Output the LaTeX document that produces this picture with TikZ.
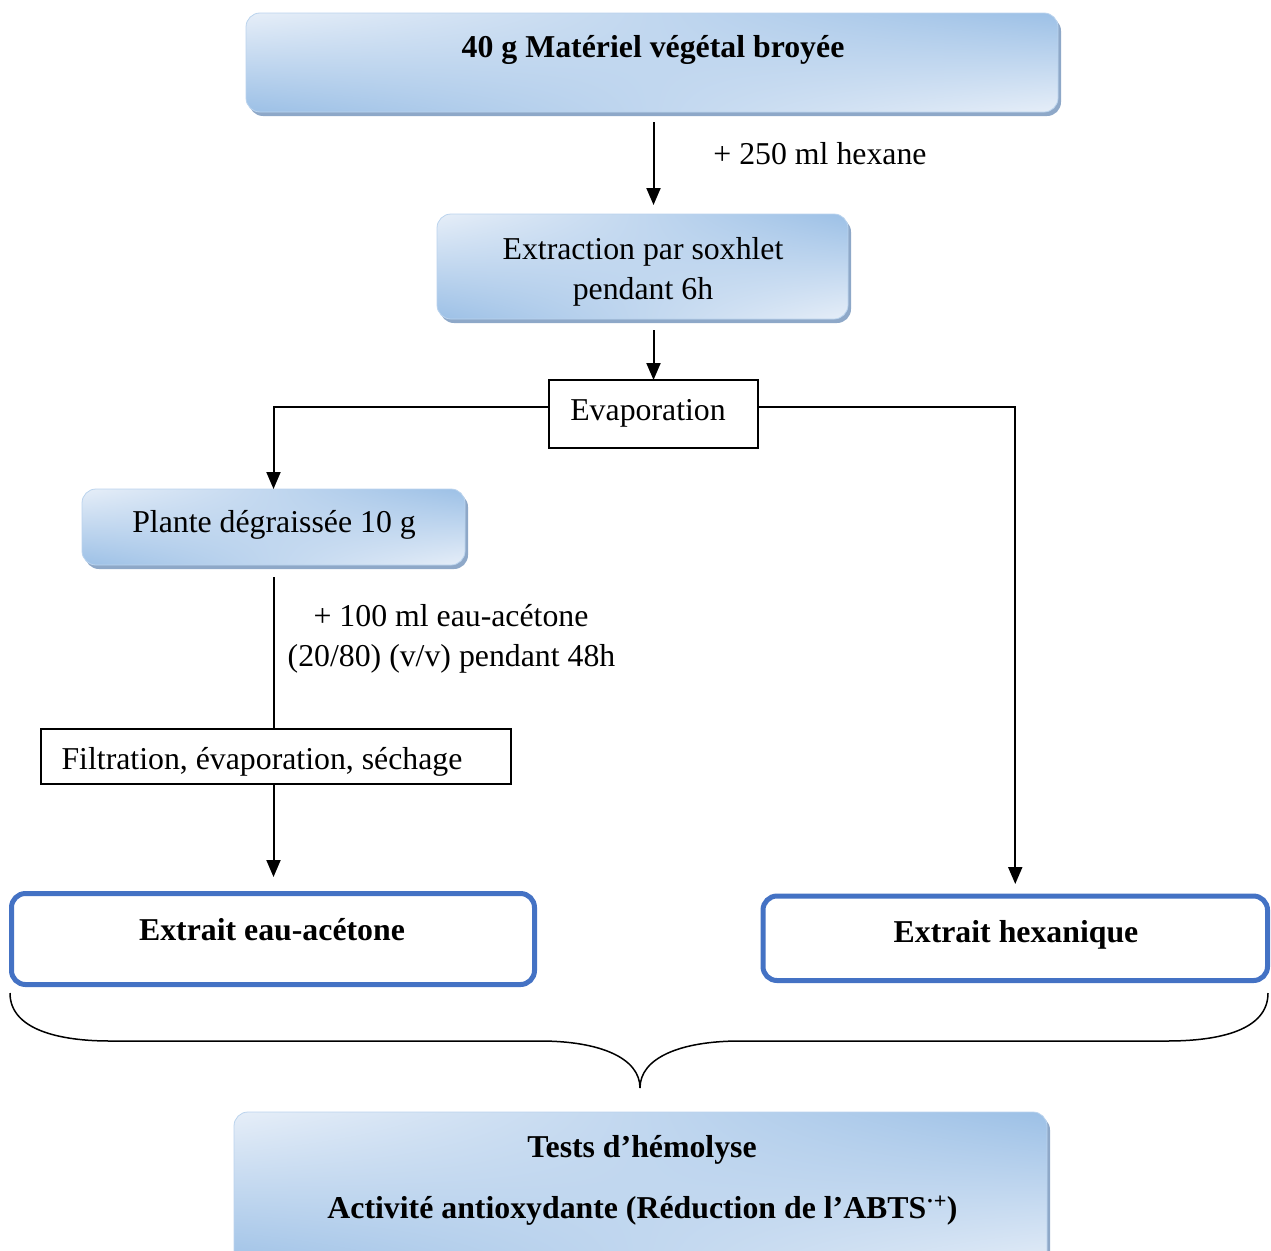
\documentclass[tikz,border=0pt]{standalone}
\usepackage{fontspec}
\setmainfont{Liberation Serif}
\usetikzlibrary{arrows.meta,shadows,shadings,calc}
\definecolor{gL}{HTML}{E6EEF8}
\definecolor{gD}{HTML}{9CC0E6}
\definecolor{shc}{HTML}{8EA8C8}
\definecolor{bblue}{HTML}{4472C4}
\begin{document}
\begin{tikzpicture}[x=1pt,y=-1pt,
  gbox/.style={rounded corners=14pt, draw=gD!70!white, line width=0.8pt, shade,
    upper left=gL, upper right=gD, lower left=gD, lower right=gL,
    drop shadow={shadow xshift=3pt, shadow yshift=-4pt, fill=shc, opacity=1},
    inner sep=0pt, outer sep=0pt},
  pbox/.style={draw=black, line width=1.5pt, fill=white, inner sep=0pt, outer sep=0pt},
  bbox/.style={draw=bblue, line width=5pt, rounded corners=14pt, inner sep=0pt, outer sep=0pt},
  txt/.style={font=\fontsize{31.8}{40}\selectfont, inner sep=0pt, anchor=base},
  btxt/.style={txt, font=\fontsize{31.8}{40}\selectfont\bfseries},
  arr/.style={line width=2pt, -{Triangle[width=14pt,length=17pt]}},
  ln/.style={line width=2pt},
]
\useasboundingbox (0,0) rectangle (1271,1250);

% boxes
\node[gbox, minimum width=812pt, minimum height=99pt] (box1) at (652,62.5) {};
\node[gbox, minimum width=411pt, minimum height=105pt] (box2) at (642.5,266.5) {};
\node[pbox, minimum width=209pt, minimum height=68pt] (evap) at (653.5,414) {};
\node[gbox, minimum width=383pt, minimum height=76pt] (box3) at (273.5,527) {};
\node[pbox, minimum width=470pt, minimum height=55pt] (filt) at (276,756.5) {};
\node[bbox, minimum width=523pt, minimum height=91pt] (eau) at (273,939) {};
\node[bbox, minimum width=504.5pt, minimum height=84.5pt] (hex) at (1015.25,938.25) {};
\node[gbox, minimum width=813pt, minimum height=160pt] (box4) at (640.5,1192) {};

% texts
\node[btxt] (t1) at (653,57) {40 g Matériel végétal broyée};
\node[txt] (l1) at (820,164) {+ 250 ml hexane};
\node[txt] (t2a) at (643,259) {Extraction par soxhlet};
\node[txt] (t2b) at (643,299) {pendant 6h};
\node[txt] (tev) at (648,420) {Evaporation};
\node[txt] (t3) at (274,532) {Plante dégraissée 10 g};
\node[txt] (l2a) at (451,626) {+ 100 ml eau-acétone};
\node[txt] (l2b) at (451.5,666) {(20/80) (v/v) pendant 48h};
\node[txt] (tf) at (262,769) {Filtration, évaporation, séchage};
\node[btxt] (te) at (272,940) {Extrait eau-acétone};
\node[btxt] (th) at (1016,942) {Extrait hexanique};
\node[btxt] (t4a) at (642,1157) {Tests d’hémolyse};
\node[btxt] (t4b) at (642.5,1218) {Activité antioxydante (Réduction de l’ABTS\textsuperscript{·+})};

% connectors
\draw[arr, shorten <=10pt, shorten >=9pt] (box1.south -| evap.north) -- (box2.north -| evap.north);
\draw[arr, shorten <=11pt] (box2.south -| evap.north) -- (evap.north);
\draw[arr] ([yshift=7pt]evap.west) -| (box3.north);
\draw[arr, shorten >=12pt] ([yshift=7pt]evap.east) -| (hex.north);
\draw[ln, shorten <=12pt] (box3.south) -- (box3.south |- filt.north);
\draw[arr, shorten >=16.5pt] (box3.south |- filt.south) -- (box3.south |- eau.north);

% brace
\coordinate (bL) at (10,993);
\coordinate (bR) at (1268,993);
\coordinate (bT) at (640,1088);
\draw[line width=1.5pt] (bL) .. controls (10,1030) and (60,1041) .. (110,1041) -- (540,1041)
  .. controls (600,1041) and (640,1058) .. (bT)
  .. controls (640,1058) and (680,1041) .. (740,1041) -- (1167,1041)
  .. controls (1220,1041) and (1268,1030) .. (bR);
\end{tikzpicture}
\end{document}
